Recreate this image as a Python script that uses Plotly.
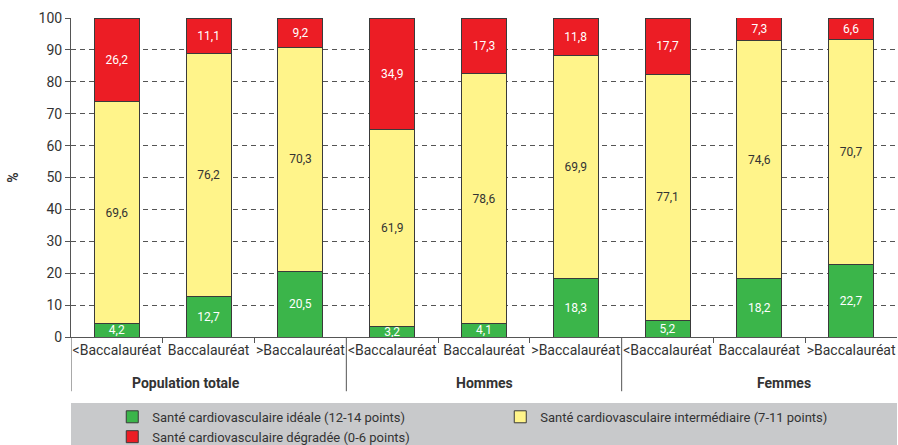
import plotly.graph_objects as go

groups = ["Population totale", "Hommes", "Femmes"]
levels = ["<Baccalauréat", "Baccalauréat", ">Baccalauréat"]
group_label_pos = [0.75, 4.0, 7.27]

ideale = [4.2, 12.7, 20.5, 3.2, 4.1, 18.3, 5.2, 18.2, 22.7]
intermediaire = [69.6, 76.2, 70.3, 61.9, 78.6, 69.9, 77.1, 74.6, 70.7]
degradee = [26.2, 11.1, 9.2, 34.9, 17.3, 11.8, 17.7, 7.3, 6.6]

n = len(ideale)
xpos = list(range(n))
inner_labels = [l.replace("<", "&lt;").replace(">", "&gt;") for _ in groups for l in levels]

FONT = "Roboto, Liberation Sans, sans-serif"
TXT = "#333333"
AX = "#555555"

def fmt(v):
    return f"{v:.1f}".replace(".", ",")

series = [
    ("Santé cardiovasculaire idéale (12-14 points)", ideale, "#3bb54a", "white"),
    ("Santé cardiovasculaire intermédiaire (7-11 points)", intermediaire, "#fff48a", TXT),
    ("Santé cardiovasculaire dégradée (0-6 points)", degradee, "#ec1d25", "white"),
]

fig = go.Figure()
for name, vals, col, tcol in series:
    fig.add_trace(go.Bar(
        x=xpos, y=vals, name=name,
        marker=dict(color=col, line=dict(color="#3a3a3a", width=1)),
        text=[fmt(v) for v in vals],
        textposition="inside", insidetextanchor="middle",
        constraintext="none",
        textfont=dict(family=FONT, size=12, color=tcol),
        width=0.49,
    ))

shapes = [dict(type="rect", xref="paper", yref="paper", x0=0, x1=1,
               y0=-0.345, y1=-0.207, fillcolor="#c8c9cb",
               line=dict(width=0), layer="below")]
for b in [-0.5, 2.5, 5.5]:
    shapes.append(dict(type="line", xref="x", yref="paper", x0=b, x1=b,
                       y0=0, y1=-0.17, line=dict(color=AX, width=1)))

annotations = []
for g, p in zip(groups, group_label_pos):
    annotations.append(dict(x=p, y=-0.145, xref="x", yref="paper", text=f"<b>{g}</b>",
                            showarrow=False, yanchor="middle",
                            font=dict(family=FONT, size=14, color=TXT)))

fig.update_layout(
    barmode="stack",
    width=898, height=445,
    margin=dict(l=71, r=1, t=18, b=108),
    plot_bgcolor="white", paper_bgcolor="white",
    font=dict(family=FONT, color=TXT),
    showlegend=True,
    legend=dict(
        orientation="h", xref="container", x=0.125, xanchor="left",
        yref="container", y=0.097, yanchor="top",
        entrywidth=343, entrywidthmode="pixels",
        bgcolor="rgba(0,0,0,0)", traceorder="normal",
        font=dict(family=FONT, size=13, color=TXT),
    ),
    shapes=shapes,
    annotations=annotations,
)

fig.update_yaxes(
    range=[0, 100], dtick=10, showgrid=True, gridcolor=AX,
    griddash="5px,4px", gridwidth=1,
    showline=True, linecolor=AX, linewidth=1,
    ticks="outside", ticklen=5, tickcolor=AX,
    tickfont=dict(family=FONT, size=14, color=TXT),
    title=dict(text="<b>%</b>", font=dict(family=FONT, size=14, color=TXT), standoff=16),
    zeroline=False,
)
fig.update_xaxes(
    range=[-0.5, n - 0.5],
    tickmode="array", tickvals=xpos, ticktext=inner_labels, tickangle=0,
    showline=True, linecolor=AX, linewidth=1,
    ticks="", showgrid=False,
    tickfont=dict(family=FONT, size=14, color=TXT),
    minor=dict(tickmode="array", tickvals=[0.5, 1.5, 3.5, 4.5, 6.5, 7.5],
               ticks="outside", ticklen=5, tickcolor=AX, showgrid=False),
)

fig.write_html("out.html")
